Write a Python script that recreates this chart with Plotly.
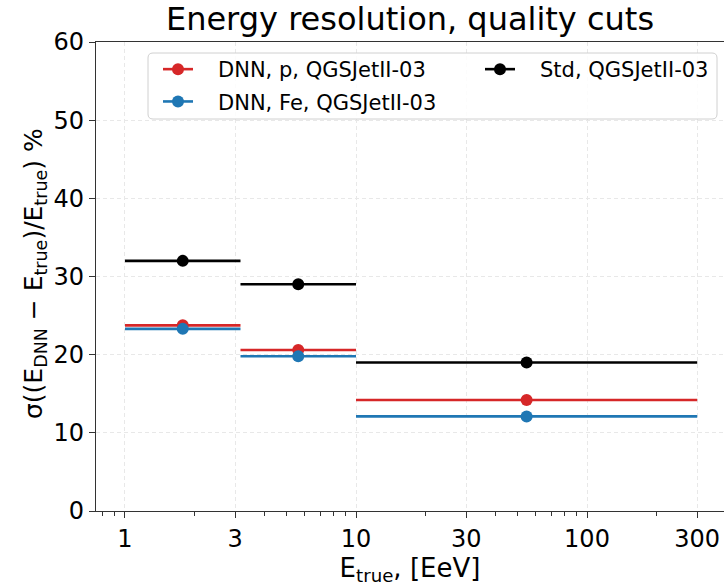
import plotly.graph_objects as go

# Data
bin_lo = [1.0, 3.162, 10.0]
bin_hi = [3.162, 10.0, 300.0]
bin_center = [1.778, 5.623, 54.77]

dnn_p = [23.75, 20.6, 14.2]
dnn_fe = [23.3, 19.8, 12.1]
std = [32.0, 29.0, 19.0]

series = [
    ("DNN, p, QGSJetII-03", dnn_p, "#d62728", "legend"),
    ("DNN, Fe, QGSJetII-03", dnn_fe, "#1f77b4", "legend"),
    ("Std, QGSJetII-03", std, "black", "legend2"),
]

x_ticks = [1, 3, 10, 30, 100, 300]
x_tick_text = ["1", "3", "10", "30", "100", "300"]
x_minor = [0.8, 0.9, 2, 4, 5, 6, 7, 8, 9, 20, 40, 50, 60, 70, 80, 90, 200, 400]
y_ticks = [0, 10, 20, 30, 40, 50, 60]

FONT = "DejaVu Sans"

# plot-area geometry (px)
PL, PR, PT, PB = 96, 724, 42, 511
PW, PH = PR - PL, PB - PT


def px_x(p):
    return (p - PL) / PW


def px_y(p):
    return (PB - p) / PH


fig = go.Figure()

err_plus = [h - c for h, c in zip(bin_hi, bin_center)]
err_minus = [c - l for l, c in zip(bin_lo, bin_center)]

for name, vals, color, lg in series:
    fig.add_trace(go.Scatter(
        x=bin_center, y=vals, mode="markers",
        marker=dict(color=color, size=12),
        error_x=dict(type="data", symmetric=False, array=err_plus, arrayminus=err_minus,
                     color=color, thickness=2.6, width=0),
        showlegend=False, name=name,
    ))

# legend entries (marker with line, like matplotlib errorbar legend)
NBSP = "\u00a0" * 3
for i, (name, vals, color, lg) in enumerate(series):
    fig.add_trace(go.Scatter(
        x=[None], y=[None], mode="lines+markers", name=NBSP + name, legend=lg,
        legendgroup="g%d" % i,
        marker=dict(color=color, size=12), line=dict(color=color, width=2.6),
    ))

# legend frame (rounded rectangle)
x0, x1, y0, y1, r = 148, 717, 53, 119, 5
path = (f"M {px_x(x0 + r)},{px_y(y0)} L {px_x(x1 - r)},{px_y(y0)} "
        f"Q {px_x(x1)},{px_y(y0)} {px_x(x1)},{px_y(y0 + r)} "
        f"L {px_x(x1)},{px_y(y1 - r)} Q {px_x(x1)},{px_y(y1)} {px_x(x1 - r)},{px_y(y1)} "
        f"L {px_x(x0 + r)},{px_y(y1)} Q {px_x(x0)},{px_y(y1)} {px_x(x0)},{px_y(y1 - r)} "
        f"L {px_x(x0)},{px_y(y0 + r)} Q {px_x(x0)},{px_y(y0)} {px_x(x0 + r)},{px_y(y0)} Z")
fig.add_shape(type="path", path=path, xref="paper", yref="paper",
              line=dict(color="#d0d0d0", width=1), fillcolor="rgba(255,255,255,0.85)",
              layer="above")

leg_common = dict(orientation="v", xanchor="left", yanchor="top",
                  bgcolor="rgba(0,0,0,0)", borderwidth=0,
                  font=dict(size=21, family=FONT), itemwidth=30, tracegroupgap=2)

GRID = "#e8e8e8"

fig.add_annotation(
    text="σ((E<sub>DNN</sub> − E<sub>true</sub>)/E<sub>true</sub>) %",
    xref="paper", yref="paper", x=px_x(35), y=px_y(274),
    xanchor="center", yanchor="middle", textangle=-90, showarrow=False,
    font=dict(size=25, family=FONT, color="black"),
)

fig.update_layout(
    width=724, height=586,
    margin=dict(l=PL, r=724 - PR, t=PT, b=586 - PB),
    plot_bgcolor="white", paper_bgcolor="white",
    font=dict(family=FONT, size=24, color="black"),
    title=dict(text="Energy resolution, quality cuts", x=0.5, xref="paper",
               y=1 - 19 / 586, yanchor="middle", font=dict(size=32, family=FONT)),
    legend=dict(x=px_x(158), y=px_y(49), **leg_common),
    legend2=dict(x=px_x(480), y=px_y(49), **leg_common),
    xaxis=dict(
        type="log", range=[-0.1255, 2.593],
        tickvals=x_ticks, ticktext=x_tick_text,
        ticks="outside", ticklen=6, tickwidth=1.2, tickcolor="#333",
        showline=True, linecolor="#333", linewidth=1.3, mirror=True,
        showgrid=True, gridcolor=GRID, griddash="4px,3px", gridwidth=1,
        zeroline=False,
        minor=dict(tickvals=x_minor, ticks="outside", ticklen=3.5, tickwidth=1, tickcolor="#333",
                   showgrid=False),
        title=dict(text="E<sub>true</sub>, [EeV]", font=dict(size=26, family=FONT), standoff=4),
    ),
    yaxis=dict(
        range=[0, 60], tickvals=y_ticks,
        ticks="outside", ticklen=6, tickwidth=1.2, tickcolor="#333",
        showline=True, linecolor="#333", linewidth=1.3,
        showgrid=True, gridcolor=GRID, griddash="4px,3px", gridwidth=1,
        zeroline=False,
    ),
)

fig.write_html("out.html")
